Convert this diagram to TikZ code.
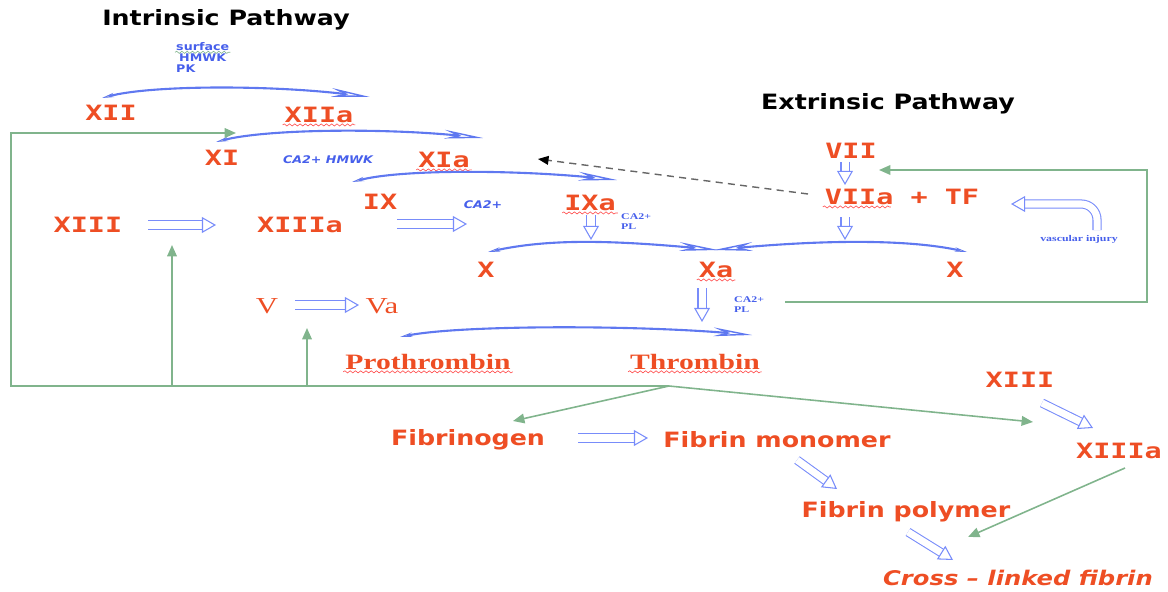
\documentclass[tikz,border=0pt]{standalone}
\usepackage{fontspec}
\newfontfamily\numfont[FakeStretch=1.35]{DejaVu Sans Mono}
\newfontfamily\wordfont[FakeStretch=1.2, ItalicFont={DejaVu Sans Oblique}, BoldItalicFont={DejaVu Sans Bold Oblique}]{DejaVu Sans}
\newfontfamily\serffont[FakeStretch=1.35]{Liberation Serif}
\usetikzlibrary{arrows.meta,calc,decorations.pathmorphing}

\definecolor{factred}{RGB}{238,78,36}
\definecolor{cofblue}{RGB}{70,95,235}
\definecolor{sweepblue}{RGB}{95,120,240}
\definecolor{hollowblue}{RGB}{120,140,250}
\definecolor{loopgreen}{RGB}{128,180,140}

\tikzset{
  factor/.style={text=factred, font=\numfont\bfseries\fontsize{12}{14}\selectfont, inner sep=1pt},
  word/.style={text=factred, font=\wordfont\bfseries\fontsize{12}{14}\selectfont, inner sep=1pt},
  serfac/.style={text=factred, font=\serffont\fontsize{13}{15}\selectfont, inner sep=1pt},
  serfacb/.style={serfac, font=\serffont\bfseries\fontsize{12.5}{15}\selectfont},
  title/.style={font=\wordfont\bfseries\fontsize{12}{14}\selectfont, inner sep=1pt},
  cofactor/.style={text=cofblue, font=\wordfont\bfseries\fontsize{6}{7}\selectfont, inner sep=0.5pt},
  cofitalic/.style={cofactor, font=\wordfont\bfseries\itshape\fontsize{6}{7}\selectfont},
  cofserif/.style={text=cofblue, font=\serffont\bfseries\fontsize{5}{5.7}\selectfont, inner sep=0.5pt, align=left},
  sweep/.style={sweepblue, line width=1.2pt,
    {Stealth[fill=gray!45, length=7pt, width=2.5pt, line width=0.4pt]}-{Stealth[open, length=22pt, width=5pt, line width=0.8pt]}},
  hollow/.style={hollowblue, line width=0.6pt, double=white, double distance=4pt,
    -{Triangle[length=8pt, width=9pt, fill=white, line width=0.6pt]}},
  feedback/.style={loopgreen, line width=0.9pt, -{Triangle[length=6.5pt, width=5.5pt]}},
  dashline/.style={gray!80!black, line width=0.8pt, dash pattern=on 4pt off 3pt, -{Triangle[length=6pt, width=5pt, black]}},
  squig/.style={red!70, line width=0.35pt, decorate, decoration={snake, amplitude=0.6pt, segment length=3pt}},
}

\begin{document}
\begin{tikzpicture}[x=0.02cm, y=-0.02cm]
  \useasboundingbox (0,0) rectangle (1168,591);

  % Titles
  \node[title] (intr) at (226,20) {Intrinsic Pathway};
  \node[title] (extr) at (888,104) {Extrinsic Pathway};

  % Cofactors
  \node[cofactor, anchor=west] (surf) at (175,47) {surface};
  \node[cofactor, anchor=west] (hmwk) at (178,58) {HMWK};
  \node[cofactor, anchor=west] (pk) at (175,69) {PK};
  \node[cofitalic] (cahm) at (328,160) {CA2+ HMWK};
  \node[cofitalic] (caix) at (483,205) {CA2+};
  \node[cofserif, anchor=west] (capl) at (620,222) {CA2+\\PL};
  \node[cofserif, anchor=west] (caplx) at (733,305) {CA2+\\PL};
  \node[cofserif] (vasc) at (1079,239) {vascular injury};

  % Factors
  \node[factor] (xii) at (111,113) {XII};
  \node[factor] (xiia) at (319,115) {XIIa};
  \node[factor] (xi) at (222,158) {XI};
  \node[factor] (xia) at (444,160) {XIa};
  \node[factor] (ix) at (380,202) {IX};
  \node[factor] (ixa) at (590,203) {IXa};
  \node[factor] (xiiil) at (88,225) {XIII};
  \node[factor] (xiiial) at (300,225) {XIIIa};
  \node[factor] (xl) at (486,270) {X};
  \node[factor] (xa) at (716,270) {Xa};
  \node[factor] (xr) at (955,270) {X};
  \node[factor] (vii) at (851,151) {VII};
  \node[factor] (viia) at (902,197) {VIIa + TF};
  \node[serfac] (v) at (267,306) {V};
  \node[serfac] (va) at (382,306) {Va};
  \node[serfacb] (prot) at (428,362) {Prothrombin};
  \node[serfacb] (thr) at (695,362) {Thrombin};
  \node[factor] (xiiir) at (1020,380) {XIII};
  \node[factor] (xiiiar) at (1119,451) {XIIIa};
  \node[word] (fgen) at (468,440) {Fibrinogen};
  \node[word] (fmon) at (777,440) {Fibrin monomer};
  \node[word] (fpol) at (906,512) {Fibrin polymer};
  \node[word, font=\wordfont\bfseries\itshape\fontsize{11.5}{13}\selectfont] (cross) at (1018,578) {Cross – linked fibrin};

  % Spelling marks
  \foreach \n in {xiia,xia,ixa,xa,prot,thr}
    \draw[squig] (\n.south west) -- (\n.south east);
  \draw[squig] (viia.south west) -- ++(68,0);
  \draw[squig, loopgreen] (surf.south west) -- (surf.south east);

  % Activation sweeps
  \draw[sweep] ($(xii)+(-9,-15)$) .. controls +(50,-13) and +(-100,-12) .. ($(xiia)+(51,-18)$);
  \draw[sweep] ($(xi)+(-6,-16)$) .. controls +(50,-13) and +(-100,-10) .. ($(xia)+(39,-22)$);
  \draw[sweep] ($(ix)+(-28,-20)$) .. controls +(50,-13) and +(-100,-10) .. ($(ixa)+(27,-23)$);
  \draw[sweep] ($(xl)+(2,-18)$) .. controls +(60,-13) and +(-110,-10) .. ($(xa)+(2,-20)$);
  \draw[sweep] ($(xr)+(12,-18)$) .. controls +(-60,-13) and +(110,-10) .. ($(xa)+(-2,-20)$);
  \draw[sweep] ($(prot)+(-28,-25)$) .. controls +(60,-12) and +(-120,-10) .. ($(thr)+(57,-27)$);

  % Hollow arrows
  \draw[hollow] ($(xiiil)+(60,0)$) -- ($(xiiil)+(128,0)$);
  \draw[hollow] ($(xiiial)+(97,-1)$) -- ($(xiiial)+(167,-1)$);
  \draw[hollow] ($(ixa)+(1,12)$) -- ($(ixa)+(1,37)$);
  \draw[hollow] ($(vii)+(-6,11)$) -- ($(vii)+(-6,34)$);
  \draw[hollow] ($(viia)+(-57,20)$) -- ($(viia)+(-57,43)$);
  \draw[hollow] ($(xa)+(-14,18)$) -- ($(xa)+(-14,52)$);
  \draw[hollow] ($(v)+(28,-1)$) -- ($(v)+(92,-1)$);
  \draw[hollow] ($(fgen)+(110,-2)$) -- ($(fgen)+(180,-2)$);
  \draw[hollow] ($(fmon)+(20,20)$) -- ($(fmon)+(60,49)$);
  \draw[hollow] ($(fpol)+(2,20)$) -- ($(fpol)+(47,48)$);
  \draw[hollow] ($(xiiir)+(22,23)$) -- ($(xiiir)+(73,48)$);
  \draw[hollow, rounded corners=9pt] ($(vasc)+(18,-9)$) |- ($(viia)+(109,7)$);

  % Feedback loops
  \coordinate (jn) at (669,386);
  \coordinate (lc) at (11,386);
  \coordinate (b1) at (172,386);
  \coordinate (b2) at (307,386);
  \coordinate (rc) at (1147,170);
  \draw[feedback] (jn) -- (lc) |- ($(xi)+(14,-25)$);
  \draw[feedback] (b1) -- ($(xiiil)+(84,20)$);
  \draw[feedback] (b2) -- ($(v)+(40,22)$);
  \draw[feedback] (jn) -- ($(fgen)+(45,-19)$);
  \draw[feedback] (jn) -- ($(xiiir)+(13,42)$);
  \draw[feedback] ($(xa)+(69,32)$) -| (rc) -- ($(vii)+(28,19)$);
  \draw[feedback] ($(xiiiar)+(6,17)$) -- ($(cross)+(-50,-41)$);
  \draw[dashline] ($(viia)+(-94,-3)$) -- ($(xia)+(94,-1)$);
\end{tikzpicture}
\end{document}
